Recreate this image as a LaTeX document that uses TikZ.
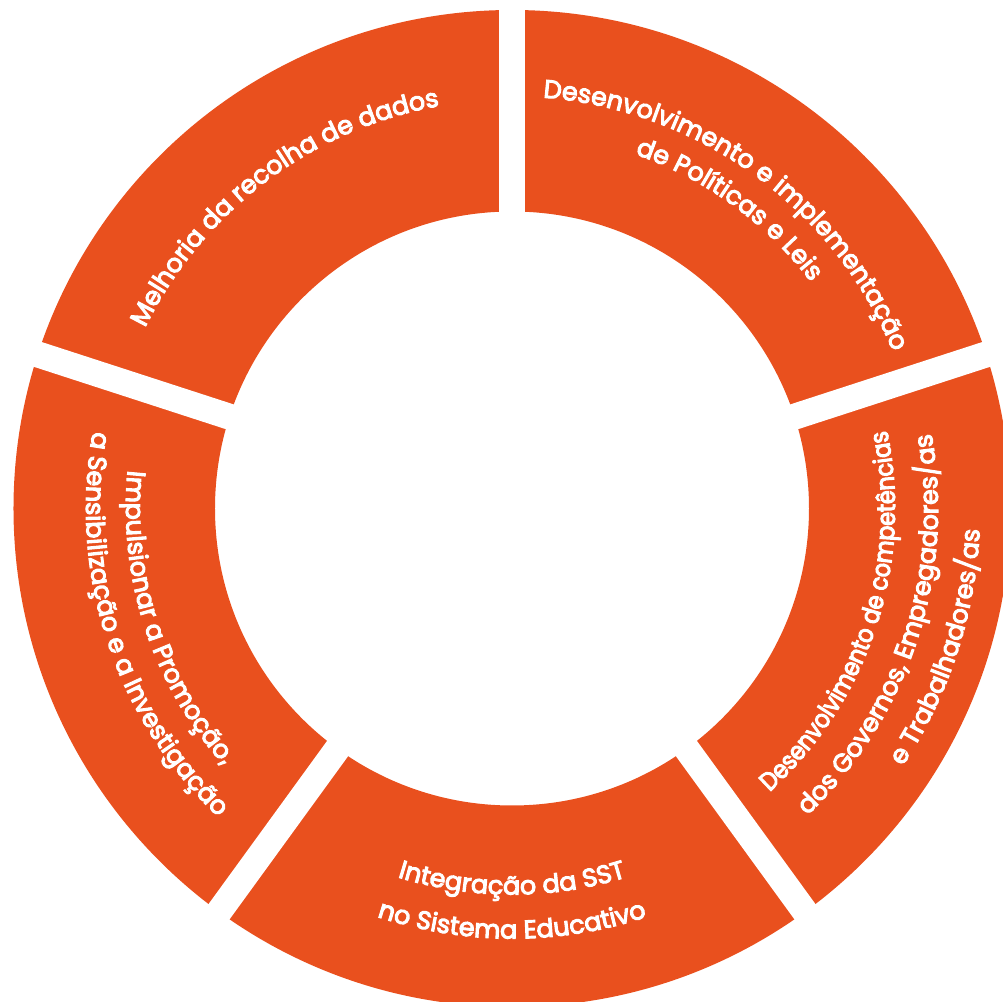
\documentclass[tikz,border=0pt]{standalone}
\usepackage{fontspec}
\setmainfont{Poppins}[FakeBold = 4]
\newfontfamily\narrowfont{Poppins}[FakeBold = 4, FakeStretch = 0.88]
\usetikzlibrary{decorations.text}
\definecolor{ringorange}{HTML}{E9501E}
\newcommand{\ringfont}{\fontsize{14.5}{17}\selectfont}

\begin{document}
\begin{tikzpicture}[curved text/.style = {decorate, decoration = {text along path, text align = center, text color = white, text = {|\ringfont|#1}}},
                    narrow text/.style = {curved text, decoration = {text = {|\narrowfont\ringfont|#1}}}]
        \clip (- 10.24, - 9.87) rectangle (9.82, 10.17);

        \fill[ringorange, even odd rule] (0, 0) circle (9.97) (0, 0) circle (5.94);
        \foreach \gap in {90, 18, - 54, - 126, 162}
            \draw[white, line width = 0.52cm] (0, 0) -- (\gap : 10.5);

        \path[curved text = {Melhoria da recolha de dados}] (187 : 8.18) arc (187 : 67 : 8.18);

        \path[curved text = {Desenvolvimento e implementação}] (114 : 8.24) arc (114 : - 6 : 8.24);
        \path[curved text = {de Políticas e Leis}] (114 : 7.50) arc (114 : - 6 : 7.50);

        \path[narrow text = {Desenvolvimento de competências}] (- 78 : 7.66) arc (- 78 : 42 : 7.66);
        \path[curved text = {dos Governos{,} Empregadores/as}] (- 78 : 8.52) arc (- 78 : 42 : 8.52);
        \path[curved text = {e Trabalhadores/as}] (- 78 : 9.36) arc (- 78 : 42 : 9.36);

        \path[curved text = {Integração da SST}] (- 150 : 7.72) arc (- 150 : - 30 : 7.72);
        \path[curved text = {no Sistema Educativo}] (- 150 : 8.60) arc (- 150 : - 30 : 8.60);

        \path[curved text = {Impulsionar a Promoção{,}}] (138 : 7.72) arc (138 : 258 : 7.72);
        \path[curved text = {a Sensibilização e a Investigação}] (138 : 8.52) arc (138 : 258 : 8.52);
\end{tikzpicture}
\end{document}
